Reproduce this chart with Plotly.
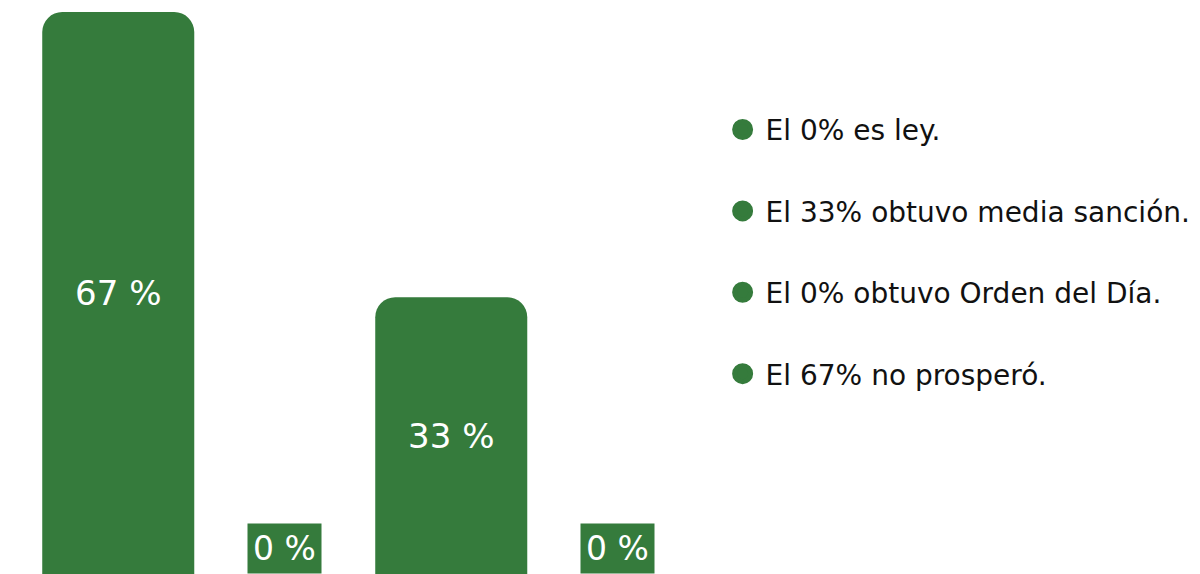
import plotly.graph_objects as go

# categories in the order the bars are drawn
categories = ["No prosperó", "Es ley", "Media sanción", "Orden del Día"]
percentages = [67, 0, 33, 0]

# legend entries (top to bottom)
legend_labels = [
    "El 0% es ley.",
    "El 33% obtuvo media sanción.",
    "El 0% obtuvo Orden del Día.",
    "El 67% no prosperó.",
]

_GREEN = "#357b3c"
_TEXT = "#111111"
_FONT = "DejaVu Sans"

fig = go.Figure()

fig.add_trace(go.Bar(
    x=categories,
    y=percentages,
    marker=dict(color=_GREEN, cornerradius=20, line=dict(width=0)),
    text=[f"{v} %" if v else "" for v in percentages],
    textposition="inside",
    insidetextanchor="middle",
    textfont=dict(color="white", size=34, family=_FONT),
    showlegend=False,
    hoverinfo="skip",
))

# zero bars: label sits on the baseline in a green box
for cat, v in zip(categories, percentages):
    if v == 0:
        fig.add_annotation(
            x=cat, y=0, xref="x", yref="y",
            text=f"{v} %",
            yanchor="bottom",
            showarrow=False,
            bgcolor=_GREEN,
            borderpad=5,
            font=dict(color="white", size=33, family=_FONT),
        )

# legend-only markers
for i, lbl in enumerate(legend_labels):
    fig.add_trace(go.Scatter(
        x=[None], y=[None],
        mode="markers",
        name=lbl,
        legendgroup=f"g{i}",
        marker=dict(color=_GREEN, size=20, symbol="circle",
                    line=dict(color=_GREEN, width=5)),
    ))

# page body has an 8px margin, so the figure is 8px smaller than the window
fig.update_layout(
    width=1192,
    height=566,
    margin=dict(l=0, r=0, t=0, b=0),
    paper_bgcolor="white",
    plot_bgcolor="white",
    bargap=0.087,
    legend=dict(
        x=0.597, y=0.829,
        xanchor="left", yanchor="top",
        font=dict(size=28, color=_TEXT, family=_FONT),
        tracegroupgap=42,
        itemsizing="trace",
        itemwidth=36,
        bgcolor="rgba(0,0,0,0)",
    ),
)
fig.update_xaxes(domain=[27 / 1192, 693 / 1192], visible=False)
fig.update_yaxes(range=[0, 67.48], visible=False)

fig.write_html("out.html")
